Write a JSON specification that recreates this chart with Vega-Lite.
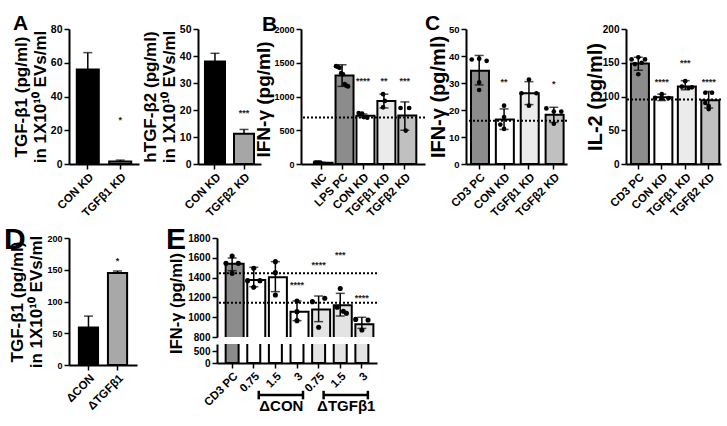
{
"$schema": "https://vega.github.io/schema/vega-lite/v6.json",
"padding": {"left": 4, "top": 13, "right": 0, "bottom": 0},
"config": {
  "view": {"stroke": null},
  "font": "Liberation Sans",
  "numberFormat": "d",
  "axis": {"domainColor": "#000", "domainWidth": 2, "tickColor": "#000", "tickWidth": 1.5, "tickSize": 5, "labelColor": "#000", "labelFont": "Liberation Sans", "labelFontWeight": "bold", "labelFontSize": 10.5, "labelPadding": 2, "labelOverlap": false, "titleColor": "#000", "titleFont": "Liberation Sans", "titleFontWeight": "bold", "grid": false},
  "axisX": {"labelAngle": -45, "labelFontSize": 11.5},
  "title": {"font": "Liberation Sans", "fontWeight": "bold", "color": "#000", "anchor": "start", "frame": "group"},
  "tick": {"thickness": 1.5, "color": "#000"},
  "rule": {"color": "#000"}
},
"datasets": {
  "bars": [
    {"p": "A1", "cat": "CON KD", "m": 56, "lo": 56, "hi": 66},
    {"p": "A1", "cat": "TGFβ1 KD", "m": 1.5, "lo": 1.5, "hi": 2.3},
    {"p": "A2", "cat": "CON KD", "m": 38, "lo": 38, "hi": 41},
    {"p": "A2", "cat": "TGFβ2 KD", "m": 11.2, "lo": 11.2, "hi": 12.8},
    {"p": "B", "cat": "NC", "m": 20, "lo": 15, "hi": 25},
    {"p": "B", "cat": "LPS PC", "m": 1311, "lo": 1150, "hi": 1470},
    {"p": "B", "cat": "CON KD", "m": 715, "lo": 690, "hi": 740},
    {"p": "B", "cat": "TGFβ1 KD", "m": 935, "lo": 830, "hi": 1035},
    {"p": "B", "cat": "TGFβ2 KD", "m": 718, "lo": 500, "hi": 920},
    {"p": "C", "cat": "CD3 PC", "m": 34.5, "lo": 29.3, "hi": 40.2},
    {"p": "C", "cat": "CON KD", "m": 16.5, "lo": 12.8, "hi": 20.4},
    {"p": "C", "cat": "TGFβ1 KD", "m": 26.2, "lo": 22, "hi": 30.5},
    {"p": "C", "cat": "TGFβ2 KD", "m": 18.2, "lo": 15.4, "hi": 21},
    {"p": "IL2", "cat": "CD3 PC", "m": 149, "lo": 139, "hi": 158},
    {"p": "IL2", "cat": "CON KD", "m": 99, "lo": 94, "hi": 103.5},
    {"p": "IL2", "cat": "TGFβ1 KD", "m": 115, "lo": 110, "hi": 123.5},
    {"p": "IL2", "cat": "TGFβ2 KD", "m": 94.5, "lo": 83, "hi": 107.5},
    {"p": "D", "cat": "ΔCON", "m": 59, "lo": 59, "hi": 77},
    {"p": "D", "cat": "ΔTGFβ1", "m": 145, "lo": 145, "hi": 148},
    {"p": "E", "cat": "CD3 PC", "m": 1540, "lo": 1470, "hi": 1598},
    {"p": "E", "cat": "0.75|ΔCON", "m": 1376, "lo": 1308, "hi": 1504},
    {"p": "E", "cat": "1.5|ΔCON", "m": 1403, "lo": 1258, "hi": 1561},
    {"p": "E", "cat": "3|ΔCON", "m": 1056, "lo": 965, "hi": 1164},
    {"p": "E", "cat": "0.75|ΔTGFβ1", "m": 1079, "lo": 955, "hi": 1214},
    {"p": "E", "cat": "1.5|ΔTGFβ1", "m": 1120, "lo": 1012, "hi": 1241},
    {"p": "E", "cat": "3|ΔTGFβ1", "m": 928, "lo": 887, "hi": 999}
  ],
  "pts": [
    {"p": "B", "cat": "NC", "r": 1, "v": 20}, {"p": "B", "cat": "NC", "r": 2, "v": 20}, {"p": "B", "cat": "NC", "r": 3, "v": 20}, {"p": "B", "cat": "NC", "r": 4, "v": 20},
    {"p": "B", "cat": "LPS PC", "r": 1, "v": 1450}, {"p": "B", "cat": "LPS PC", "r": 2, "v": 1440}, {"p": "B", "cat": "LPS PC", "r": 3, "v": 1425}, {"p": "B", "cat": "LPS PC", "r": 4, "v": 1345},
    {"p": "B", "cat": "LPS PC", "r": 5, "v": 1330}, {"p": "B", "cat": "LPS PC", "r": 6, "v": 1185}, {"p": "B", "cat": "LPS PC", "r": 7, "v": 1160}, {"p": "B", "cat": "LPS PC", "r": 8, "v": 1150},
    {"p": "B", "cat": "CON KD", "r": 2, "v": 755}, {"p": "B", "cat": "CON KD", "r": 4, "v": 745}, {"p": "B", "cat": "CON KD", "r": 5, "v": 695}, {"p": "B", "cat": "CON KD", "r": 7, "v": 685},
    {"p": "B", "cat": "TGFβ1 KD", "r": 4, "v": 1035}, {"p": "B", "cat": "TGFβ1 KD", "r": 5, "v": 935}, {"p": "B", "cat": "TGFβ1 KD", "r": 4, "v": 840},
    {"p": "B", "cat": "TGFβ2 KD", "r": 2, "v": 830}, {"p": "B", "cat": "TGFβ2 KD", "r": 7, "v": 830}, {"p": "B", "cat": "TGFβ2 KD", "r": 5, "v": 495},
    {"p": "C", "cat": "CD3 PC", "r": 1, "v": 38.7}, {"p": "C", "cat": "CD3 PC", "r": 3, "v": 39.0}, {"p": "C", "cat": "CD3 PC", "r": 5, "v": 38.2}, {"p": "C", "cat": "CD3 PC", "r": 3, "v": 30.2}, {"p": "C", "cat": "CD3 PC", "r": 3, "v": 27.4},
    {"p": "C", "cat": "CON KD", "r": 3, "v": 21.6}, {"p": "C", "cat": "CON KD", "r": 3, "v": 17.4}, {"p": "C", "cat": "CON KD", "r": 2, "v": 14.6}, {"p": "C", "cat": "CON KD", "r": 3, "v": 13.0},
    {"p": "C", "cat": "TGFβ1 KD", "r": 3, "v": 31.3}, {"p": "C", "cat": "TGFβ1 KD", "r": 1, "v": 26.2}, {"p": "C", "cat": "TGFβ1 KD", "r": 5, "v": 26.2}, {"p": "C", "cat": "TGFβ1 KD", "r": 3, "v": 21.6},
    {"p": "C", "cat": "TGFβ2 KD", "r": 1, "v": 20.6}, {"p": "C", "cat": "TGFβ2 KD", "r": 3, "v": 19.4}, {"p": "C", "cat": "TGFβ2 KD", "r": 5, "v": 19.4}, {"p": "C", "cat": "TGFβ2 KD", "r": 3, "v": 14.9},
    {"p": "IL2", "cat": "CD3 PC", "r": 3, "v": 158}, {"p": "IL2", "cat": "CD3 PC", "r": 1, "v": 155}, {"p": "IL2", "cat": "CD3 PC", "r": 5, "v": 155}, {"p": "IL2", "cat": "CD3 PC", "r": 4, "v": 150}, {"p": "IL2", "cat": "CD3 PC", "r": 2, "v": 148}, {"p": "IL2", "cat": "CD3 PC", "r": 3, "v": 133},
    {"p": "IL2", "cat": "CON KD", "r": 3, "v": 103.5}, {"p": "IL2", "cat": "CON KD", "r": 1, "v": 98}, {"p": "IL2", "cat": "CON KD", "r": 3, "v": 98}, {"p": "IL2", "cat": "CON KD", "r": 5, "v": 97.5},
    {"p": "IL2", "cat": "TGFβ1 KD", "r": 3, "v": 122.7}, {"p": "IL2", "cat": "TGFβ1 KD", "r": 2, "v": 114.6}, {"p": "IL2", "cat": "TGFβ1 KD", "r": 4, "v": 112.6}, {"p": "IL2", "cat": "TGFβ1 KD", "r": 5, "v": 113.6},
    {"p": "IL2", "cat": "TGFβ2 KD", "r": 2, "v": 105.6}, {"p": "IL2", "cat": "TGFβ2 KD", "r": 4, "v": 105.6}, {"p": "IL2", "cat": "TGFβ2 KD", "r": 2, "v": 90.4}, {"p": "IL2", "cat": "TGFβ2 KD", "r": 3, "v": 85.9}, {"p": "IL2", "cat": "TGFβ2 KD", "r": 3, "v": 81.3},
    {"p": "E", "cat": "CD3 PC", "r": 3, "v": 1618}, {"p": "E", "cat": "CD3 PC", "r": 1, "v": 1544}, {"p": "E", "cat": "CD3 PC", "r": 5, "v": 1544}, {"p": "E", "cat": "CD3 PC", "r": 3, "v": 1443},
    {"p": "E", "cat": "0.75|ΔCON", "r": 3, "v": 1494}, {"p": "E", "cat": "0.75|ΔCON", "r": 1, "v": 1369}, {"p": "E", "cat": "0.75|ΔCON", "r": 5, "v": 1369}, {"p": "E", "cat": "0.75|ΔCON", "r": 3, "v": 1302},
    {"p": "E", "cat": "1.5|ΔCON", "r": 3, "v": 1561}, {"p": "E", "cat": "1.5|ΔCON", "r": 3, "v": 1450}, {"p": "E", "cat": "1.5|ΔCON", "r": 3, "v": 1224},
    {"p": "E", "cat": "3|ΔCON", "r": 3, "v": 1164}, {"p": "E", "cat": "3|ΔCON", "r": 3, "v": 1056}, {"p": "E", "cat": "3|ΔCON", "r": 3, "v": 965},
    {"p": "E", "cat": "0.75|ΔTGFβ1", "r": 1, "v": 1157}, {"p": "E", "cat": "0.75|ΔTGFβ1", "r": 5, "v": 1191}, {"p": "E", "cat": "0.75|ΔTGFβ1", "r": 3, "v": 898},
    {"p": "E", "cat": "1.5|ΔTGFβ1", "r": 3, "v": 1290}, {"p": "E", "cat": "1.5|ΔTGFβ1", "r": 2, "v": 1100}, {"p": "E", "cat": "1.5|ΔTGFβ1", "r": 4, "v": 1060}, {"p": "E", "cat": "1.5|ΔTGFβ1", "r": 5, "v": 1040},
    {"p": "E", "cat": "3|ΔTGFβ1", "r": 1, "v": 978}, {"p": "E", "cat": "3|ΔTGFβ1", "r": 5, "v": 972}, {"p": "E", "cat": "3|ΔTGFβ1", "r": 3, "v": 871}
  ],
  "stars": [
    {"p": "A1", "cat": "TGFβ1 KD", "s": "*", "v": 26},
    {"p": "A2", "cat": "TGFβ2 KD", "s": "***", "v": 19},
    {"p": "B", "cat": "CON KD", "s": "****", "v": 1230},
    {"p": "B", "cat": "TGFβ1 KD", "s": "**", "v": 1230},
    {"p": "B", "cat": "TGFβ2 KD", "s": "***", "v": 1230},
    {"p": "C", "cat": "CON KD", "s": "**", "v": 30.5},
    {"p": "C", "cat": "TGFβ2 KD", "s": "*", "v": 29.5},
    {"p": "IL2", "cat": "CON KD", "s": "****", "v": 122},
    {"p": "IL2", "cat": "TGFβ1 KD", "s": "***", "v": 150},
    {"p": "IL2", "cat": "TGFβ2 KD", "s": "****", "v": 122},
    {"p": "D", "cat": "ΔTGFβ1", "s": "*", "v": 164},
    {"p": "E", "cat": "3|ΔCON", "s": "****", "v": 1330},
    {"p": "E", "cat": "0.75|ΔTGFβ1", "s": "****", "v": 1525},
    {"p": "E", "cat": "1.5|ΔTGFβ1", "s": "***", "v": 1625},
    {"p": "E", "cat": "3|ΔTGFβ1", "s": "****", "v": 1190}
  ],
  "refs": [
    {"p": "B", "v": 690},
    {"p": "C", "v": 16},
    {"p": "IL2", "v": 95.5},
    {"p": "E", "v": 1443},
    {"p": "E", "v": 1147}
  ],
  "grp": [
    {"g": "ΔCON", "a": "0.75|ΔCON", "b": "3|ΔCON", "c": "1.5|ΔCON"},
    {"g": "ΔTGFβ1", "a": "0.75|ΔTGFβ1", "b": "3|ΔTGFβ1", "c": "1.5|ΔTGFβ1"}
  ]
},
"resolve": {"scale": {"fill": "independent", "xOffset": "independent"}},
"spacing": 6,
"vconcat": [
{
  "hconcat": [
    {
      "width": 70, "height": 135,
      "title": {"text": "A", "fontSize": 21, "dx": -56, "offset": -10},
      "layer": [
        {"data": {"name": "bars"}, "transform": [{"filter": "datum.p==='A1'"}], "mark": {"type": "bar", "stroke": "#000", "strokeWidth": 2},
         "encoding": {
           "x": {"field": "cat", "type": "nominal", "scale": {"domain": ["CON KD", "TGFβ1 KD"], "paddingInner": 0.32, "paddingOuter": 0.24}, "axis": {"title": null}},
           "y": {"field": "m", "type": "quantitative", "scale": {"domain": [0, 80]}, "axis": {"title": ["TGF-β1 (pg/ml)", "in 1X10¹⁰ EVs/ml"], "titleFontSize": 17, "titleLineHeight": 19, "titlePadding": 1, "values": [0, 20, 40, 60, 80], "tickCount": 20, "labelOverlap": false}},
           "fill": {"field": "cat", "type": "nominal", "scale": {"domain": ["CON KD", "TGFβ1 KD"], "range": ["#000000", "#9a9a9a"]}, "legend": null}}},
        {"data": {"name": "bars"}, "transform": [{"filter": "datum.p==='A1'"}], "mark": {"type": "rule", "strokeWidth": 1.5},
         "encoding": {"x": {"field": "cat", "type": "nominal"}, "y": {"field": "lo", "type": "quantitative"}, "y2": {"field": "hi"}}},
        {"data": {"name": "bars"}, "transform": [{"filter": "datum.p==='A1'"}], "mark": {"type": "tick", "size": 9},
         "encoding": {"x": {"field": "cat", "type": "nominal"}, "y": {"field": "hi", "type": "quantitative"}}},
        {"data": {"name": "stars"}, "transform": [{"filter": "datum.p==='A1'"}], "mark": {"type": "text", "fontSize": 9, "fontWeight": "bold", "baseline": "middle", "color": "#222"},
         "encoding": {"x": {"field": "cat", "type": "nominal"}, "y": {"field": "v", "type": "quantitative"}, "text": {"field": "s"}}}
      ]
    },
    {"width": 59, "height": 10, "data": {"values": []}, "mark": "point"},
    {
      "width": 63, "height": 135,
      "layer": [
        {"data": {"name": "bars"}, "transform": [{"filter": "datum.p==='A2'"}], "mark": {"type": "bar", "stroke": "#000", "strokeWidth": 2},
         "encoding": {
           "x": {"field": "cat", "type": "nominal", "scale": {"domain": ["CON KD", "TGFβ2 KD"], "paddingInner": 0.31, "paddingOuter": 0.24}, "axis": {"title": null}},
           "y": {"field": "m", "type": "quantitative", "scale": {"domain": [0, 50]}, "axis": {"title": ["hTGF-β2 (pg/ml)", "in 1X10¹⁰ EVs/ml"], "titleFontSize": 17, "titleLineHeight": 19, "titlePadding": 1, "values": [0, 10, 20, 30, 40, 50], "tickCount": 20, "labelOverlap": false}},
           "fill": {"field": "cat", "type": "nominal", "scale": {"domain": ["CON KD", "TGFβ2 KD"], "range": ["#000000", "#a6a6a6"]}, "legend": null}}},
        {"data": {"name": "bars"}, "transform": [{"filter": "datum.p==='A2'"}], "mark": {"type": "rule", "strokeWidth": 1.5},
         "encoding": {"x": {"field": "cat", "type": "nominal"}, "y": {"field": "lo", "type": "quantitative"}, "y2": {"field": "hi"}}},
        {"data": {"name": "bars"}, "transform": [{"filter": "datum.p==='A2'"}], "mark": {"type": "tick", "size": 9},
         "encoding": {"x": {"field": "cat", "type": "nominal"}, "y": {"field": "hi", "type": "quantitative"}}},
        {"data": {"name": "stars"}, "transform": [{"filter": "datum.p==='A2'"}], "mark": {"type": "text", "fontSize": 9, "fontWeight": "bold", "baseline": "middle", "color": "#222"},
         "encoding": {"x": {"field": "cat", "type": "nominal"}, "y": {"field": "v", "type": "quantitative"}, "text": {"field": "s"}}}
      ]
    },
    {"width": 40, "height": 10, "data": {"values": []}, "mark": "point"},
    {
      "width": 124, "height": 135,
      "title": {"text": "B", "fontSize": 21, "dx": -39, "offset": -10},
      "layer": [
        {"data": {"name": "bars"}, "transform": [{"filter": "datum.p==='B'"}], "mark": {"type": "bar", "stroke": "#000", "strokeWidth": 2},
         "encoding": {
           "x": {"field": "cat", "type": "nominal", "scale": {"domain": ["NC", "LPS PC", "CON KD", "TGFβ1 KD", "TGFβ2 KD"], "paddingInner": 0.375, "paddingOuter": 0.65}, "axis": {"title": null}},
           "y": {"field": "m", "type": "quantitative", "scale": {"domain": [0, 2000]}, "axis": {"title": "IFN-γ (pg/ml)", "titleFontSize": 19, "titlePadding": 0, "titleY": 70, "labelFontSize": 9, "values": [0, 500, 1000, 1500, 2000], "tickCount": 20, "labelOverlap": false}},
           "fill": {"field": "cat", "type": "nominal", "scale": {"domain": ["NC", "LPS PC", "CON KD", "TGFβ1 KD", "TGFβ2 KD"], "range": ["#ffffff", "#8c8c8c", "#ffffff", "#ebebeb", "#c0c0c0"]}, "legend": null}}},
        {"data": {"name": "bars"}, "transform": [{"filter": "datum.p==='B'"}], "mark": {"type": "rule", "strokeWidth": 1.5},
         "encoding": {"x": {"field": "cat", "type": "nominal"}, "y": {"field": "lo", "type": "quantitative"}, "y2": {"field": "hi"}}},
        {"data": {"name": "bars"}, "transform": [{"filter": "datum.p==='B'"}], "mark": {"type": "tick", "size": 9},
         "encoding": {"x": {"field": "cat", "type": "nominal"}, "y": {"field": "hi", "type": "quantitative"}}},
        {"data": {"name": "bars"}, "transform": [{"filter": "datum.p==='B'"}], "mark": {"type": "tick", "size": 9},
         "encoding": {"x": {"field": "cat", "type": "nominal"}, "y": {"field": "lo", "type": "quantitative"}}},
        {"data": {"name": "refs"}, "transform": [{"filter": "datum.p==='B'"}], "mark": {"type": "rule", "strokeDash": [2, 2], "strokeWidth": 2},
         "encoding": {"y": {"field": "v", "type": "quantitative"}}},
        {"data": {"name": "pts"}, "transform": [{"filter": "datum.p==='B'"}], "mark": {"type": "circle", "size": 22, "color": "#000", "opacity": 1},
         "encoding": {"x": {"field": "cat", "type": "nominal"}, "xOffset": {"field": "r", "type": "ordinal", "scale": {"domain": [1, 2, 3, 4, 5, 6, 7, 8], "paddingOuter": 0.3}}, "y": {"field": "v", "type": "quantitative"}}},
        {"data": {"name": "stars"}, "transform": [{"filter": "datum.p==='B'"}], "mark": {"type": "text", "fontSize": 9, "fontWeight": "bold", "baseline": "middle", "color": "#222"},
         "encoding": {"x": {"field": "cat", "type": "nominal"}, "y": {"field": "v", "type": "quantitative"}, "text": {"field": "s"}}}
      ]
    },
    {"width": 41, "height": 10, "data": {"values": []}, "mark": "point"},
    {
      "width": 101, "height": 135,
      "title": {"text": "C", "fontSize": 21, "dx": -41, "offset": -10},
      "layer": [
        {"data": {"name": "bars"}, "transform": [{"filter": "datum.p==='C'"}], "mark": {"type": "bar", "stroke": "#000", "strokeWidth": 2},
         "encoding": {
           "x": {"field": "cat", "type": "nominal", "scale": {"domain": ["CD3 PC", "CON KD", "TGFβ1 KD", "TGFβ2 KD"], "paddingInner": 0.34, "paddingOuter": 0.2}, "axis": {"title": null}},
           "y": {"field": "m", "type": "quantitative", "scale": {"domain": [0, 50]}, "axis": {"title": "IFN-γ (pg/ml)", "titleFontSize": 20, "titlePadding": 0, "labelFontSize": 9.5, "values": [0, 10, 20, 30, 40, 50], "tickCount": 20, "labelOverlap": false}},
           "fill": {"field": "cat", "type": "nominal", "scale": {"domain": ["CD3 PC", "CON KD", "TGFβ1 KD", "TGFβ2 KD"], "range": ["#8c8c8c", "#ffffff", "#ebebeb", "#c0c0c0"]}, "legend": null}}},
        {"data": {"name": "bars"}, "transform": [{"filter": "datum.p==='C'"}], "mark": {"type": "rule", "strokeWidth": 1.5},
         "encoding": {"x": {"field": "cat", "type": "nominal"}, "y": {"field": "lo", "type": "quantitative"}, "y2": {"field": "hi"}}},
        {"data": {"name": "bars"}, "transform": [{"filter": "datum.p==='C'"}], "mark": {"type": "tick", "size": 9},
         "encoding": {"x": {"field": "cat", "type": "nominal"}, "y": {"field": "hi", "type": "quantitative"}}},
        {"data": {"name": "bars"}, "transform": [{"filter": "datum.p==='C'"}], "mark": {"type": "tick", "size": 9},
         "encoding": {"x": {"field": "cat", "type": "nominal"}, "y": {"field": "lo", "type": "quantitative"}}},
        {"data": {"name": "refs"}, "transform": [{"filter": "datum.p==='C'"}], "mark": {"type": "rule", "strokeDash": [2, 2], "strokeWidth": 2},
         "encoding": {"y": {"field": "v", "type": "quantitative"}}},
        {"data": {"name": "pts"}, "transform": [{"filter": "datum.p==='C'"}], "mark": {"type": "circle", "size": 22, "color": "#000", "opacity": 1},
         "encoding": {"x": {"field": "cat", "type": "nominal"}, "xOffset": {"field": "r", "type": "ordinal", "scale": {"domain": [1, 2, 3, 4, 5], "paddingOuter": 0.2}}, "y": {"field": "v", "type": "quantitative"}}},
        {"data": {"name": "stars"}, "transform": [{"filter": "datum.p==='C'"}], "mark": {"type": "text", "fontSize": 9, "fontWeight": "bold", "baseline": "middle", "color": "#222"},
         "encoding": {"x": {"field": "cat", "type": "nominal"}, "y": {"field": "v", "type": "quantitative"}, "text": {"field": "s"}}}
      ]
    },
    {"width": 59, "height": 10, "data": {"values": []}, "mark": "point"},
    {
      "width": 95, "height": 135,
      "layer": [
        {"data": {"name": "bars"}, "transform": [{"filter": "datum.p==='IL2'"}], "mark": {"type": "bar", "stroke": "#000", "strokeWidth": 2},
         "encoding": {
           "x": {"field": "cat", "type": "nominal", "scale": {"domain": ["CD3 PC", "CON KD", "TGFβ1 KD", "TGFβ2 KD"], "paddingInner": 0.37, "paddingOuter": 0.21}, "axis": {"title": null}},
           "y": {"field": "m", "type": "quantitative", "scale": {"domain": [0, 200]}, "axis": {"title": "IL-2 (pg/ml)", "titleFontSize": 20, "titlePadding": -3, "labelFontSize": 10, "values": [0, 50, 100, 150, 200], "tickCount": 20, "labelOverlap": false}},
           "fill": {"field": "cat", "type": "nominal", "scale": {"domain": ["CD3 PC", "CON KD", "TGFβ1 KD", "TGFβ2 KD"], "range": ["#8c8c8c", "#ffffff", "#ebebeb", "#c0c0c0"]}, "legend": null}}},
        {"data": {"name": "bars"}, "transform": [{"filter": "datum.p==='IL2'"}], "mark": {"type": "rule", "strokeWidth": 1.5},
         "encoding": {"x": {"field": "cat", "type": "nominal"}, "y": {"field": "lo", "type": "quantitative"}, "y2": {"field": "hi"}}},
        {"data": {"name": "bars"}, "transform": [{"filter": "datum.p==='IL2'"}], "mark": {"type": "tick", "size": 9},
         "encoding": {"x": {"field": "cat", "type": "nominal"}, "y": {"field": "hi", "type": "quantitative"}}},
        {"data": {"name": "bars"}, "transform": [{"filter": "datum.p==='IL2'"}], "mark": {"type": "tick", "size": 9},
         "encoding": {"x": {"field": "cat", "type": "nominal"}, "y": {"field": "lo", "type": "quantitative"}}},
        {"data": {"name": "refs"}, "transform": [{"filter": "datum.p==='IL2'"}], "mark": {"type": "rule", "strokeDash": [2, 2], "strokeWidth": 2},
         "encoding": {"y": {"field": "v", "type": "quantitative"}}},
        {"data": {"name": "pts"}, "transform": [{"filter": "datum.p==='IL2'"}], "mark": {"type": "circle", "size": 22, "color": "#000", "opacity": 1},
         "encoding": {"x": {"field": "cat", "type": "nominal"}, "xOffset": {"field": "r", "type": "ordinal", "scale": {"domain": [1, 2, 3, 4, 5], "paddingOuter": 0.2}}, "y": {"field": "v", "type": "quantitative"}}},
        {"data": {"name": "stars"}, "transform": [{"filter": "datum.p==='IL2'"}], "mark": {"type": "text", "fontSize": 9, "fontWeight": "bold", "baseline": "middle", "color": "#222"},
         "encoding": {"x": {"field": "cat", "type": "nominal"}, "y": {"field": "v", "type": "quantitative"}, "text": {"field": "s"}}}
      ]
    }
  ],
  "spacing": 0,
  "bounds": "flush",
  "resolve": {"scale": {"fill": "independent", "xOffset": "independent"}}
},
{
  "hconcat": [
    {
      "width": 68, "height": 127,
      "title": {"text": "D", "fontSize": 30, "dx": -65, "offset": -21},
      "layer": [
        {"data": {"name": "bars"}, "transform": [{"filter": "datum.p==='D'"}], "mark": {"type": "bar", "stroke": "#000", "strokeWidth": 2},
         "encoding": {
           "x": {"field": "cat", "type": "nominal", "scale": {"domain": ["ΔCON", "ΔTGFβ1"], "paddingInner": 0.34, "paddingOuter": 0.34}, "axis": {"title": null}},
           "y": {"field": "m", "type": "quantitative", "scale": {"domain": [0, 200]}, "axis": {"title": ["TGF-β1 (pg/ml)", "in 1X10¹⁰ EVs/ml"], "titleFontSize": 17, "titleLineHeight": 19, "titlePadding": 1, "labelFontSize": 9, "values": [0, 50, 100, 150, 200], "tickCount": 20, "labelOverlap": false}},
           "fill": {"field": "cat", "type": "nominal", "scale": {"domain": ["ΔCON", "ΔTGFβ1"], "range": ["#000000", "#a8a8a8"]}, "legend": null}}},
        {"data": {"name": "bars"}, "transform": [{"filter": "datum.p==='D'"}], "mark": {"type": "rule", "strokeWidth": 1.5},
         "encoding": {"x": {"field": "cat", "type": "nominal"}, "y": {"field": "lo", "type": "quantitative"}, "y2": {"field": "hi"}}},
        {"data": {"name": "bars"}, "transform": [{"filter": "datum.p==='D'"}], "mark": {"type": "tick", "size": 9},
         "encoding": {"x": {"field": "cat", "type": "nominal"}, "y": {"field": "hi", "type": "quantitative"}}},
        {"data": {"name": "stars"}, "transform": [{"filter": "datum.p==='D'"}], "mark": {"type": "text", "fontSize": 9, "fontWeight": "bold", "baseline": "middle", "color": "#222"},
         "encoding": {"x": {"field": "cat", "type": "nominal"}, "y": {"field": "v", "type": "quantitative"}, "text": {"field": "s"}}}
      ]
    },
    {"width": 80, "height": 10, "data": {"values": []}, "mark": "point"},
    {
      "vconcat": [
        {
          "width": 160, "height": 99,
          "title": {"text": "E", "fontSize": 30, "dx": -51, "offset": -22},
          "layer": [
            {"data": {"name": "bars"}, "transform": [{"filter": "datum.p==='E'"}], "mark": {"type": "bar", "stroke": "#000", "strokeWidth": 2, "clip": true},
             "encoding": {
               "x": {"field": "cat", "type": "nominal", "scale": {"domain": ["CD3 PC", "0.75|ΔCON", "1.5|ΔCON", "3|ΔCON", "0.75|ΔTGFβ1", "1.5|ΔTGFβ1", "3|ΔTGFβ1"], "paddingInner": 0.4, "paddingOuter": 0.4}, "axis": null},
               "y": {"field": "m", "type": "quantitative", "scale": {"domain": [800, 1800]}, "axis": {"title": "IFN-γ (pg/ml)", "titleFontSize": 16.5, "titlePadding": 3, "titleY": 65, "labelFontSize": 10, "values": [800, 1000, 1200, 1400, 1600, 1800], "tickCount": 20, "labelOverlap": false}},
               "fill": {"field": "cat", "type": "nominal", "scale": {"domain": ["CD3 PC", "0.75|ΔCON", "1.5|ΔCON", "3|ΔCON", "0.75|ΔTGFβ1", "1.5|ΔTGFβ1", "3|ΔTGFβ1"], "range": ["#8c8c8c", "#ffffff", "#ffffff", "#ffffff", "#e3e3e3", "#e3e3e3", "#e3e3e3"]}, "legend": null}}},
            {"data": {"name": "bars"}, "transform": [{"filter": "datum.p==='E'"}], "mark": {"type": "rule", "strokeWidth": 1.5},
             "encoding": {"x": {"field": "cat", "type": "nominal", "axis": null}, "y": {"field": "lo", "type": "quantitative"}, "y2": {"field": "hi"}}},
            {"data": {"name": "bars"}, "transform": [{"filter": "datum.p==='E'"}], "mark": {"type": "tick", "size": 9},
             "encoding": {"x": {"field": "cat", "type": "nominal", "axis": null}, "y": {"field": "hi", "type": "quantitative"}}},
            {"data": {"name": "bars"}, "transform": [{"filter": "datum.p==='E'"}], "mark": {"type": "tick", "size": 9},
             "encoding": {"x": {"field": "cat", "type": "nominal", "axis": null}, "y": {"field": "lo", "type": "quantitative"}}},
            {"data": {"name": "refs"}, "transform": [{"filter": "datum.p==='E'"}], "mark": {"type": "rule", "strokeDash": [2, 2], "strokeWidth": 2},
             "encoding": {"y": {"field": "v", "type": "quantitative"}}},
            {"data": {"name": "pts"}, "transform": [{"filter": "datum.p==='E'"}], "mark": {"type": "circle", "size": 26, "color": "#000", "opacity": 1},
             "encoding": {"x": {"field": "cat", "type": "nominal", "axis": null}, "xOffset": {"field": "r", "type": "ordinal", "scale": {"domain": [1, 2, 3, 4, 5], "paddingOuter": 0.1}}, "y": {"field": "v", "type": "quantitative"}}},
            {"data": {"name": "stars"}, "transform": [{"filter": "datum.p==='E'"}], "mark": {"type": "text", "fontSize": 9, "fontWeight": "bold", "baseline": "middle", "color": "#222"},
             "encoding": {"x": {"field": "cat", "type": "nominal", "axis": null}, "y": {"field": "v", "type": "quantitative"}, "text": {"field": "s"}}}
          ]
        },
        {
          "width": 160, "height": 19,
          "layer": [
            {"data": {"name": "bars"}, "transform": [{"filter": "datum.p==='E'"}], "mark": {"type": "bar", "stroke": "#000", "strokeWidth": 2, "clip": true},
             "encoding": {
               "x": {"field": "cat", "type": "nominal", "scale": {"domain": ["CD3 PC", "0.75|ΔCON", "1.5|ΔCON", "3|ΔCON", "0.75|ΔTGFβ1", "1.5|ΔTGFβ1", "3|ΔTGFβ1"], "paddingInner": 0.4, "paddingOuter": 0.4}, "axis": {"title": null, "labelExpr": "split(datum.label, '|')[0]"}},
               "y": {"field": "m", "type": "quantitative", "scale": {"domain": [0, 800]}, "axis": {"title": null, "labelFontSize": 10, "values": [0, 500], "tickCount": 20, "labelOverlap": false}},
               "fill": {"field": "cat", "type": "nominal", "scale": {"domain": ["CD3 PC", "0.75|ΔCON", "1.5|ΔCON", "3|ΔCON", "0.75|ΔTGFβ1", "1.5|ΔTGFβ1", "3|ΔTGFβ1"], "range": ["#8c8c8c", "#ffffff", "#ffffff", "#ffffff", "#e3e3e3", "#e3e3e3", "#e3e3e3"]}, "legend": null}}},
            {"data": {"name": "grp"}, "mark": {"type": "rule", "strokeWidth": 2.5, "xOffset": 5, "x2Offset": 6},
             "encoding": {"x": {"field": "a", "type": "nominal"}, "x2": {"field": "b"}, "y": {"datum": -1350, "type": "quantitative"}}},
            {"data": {"name": "grp"}, "mark": {"type": "rule", "strokeWidth": 2.5, "xOffset": 5},
             "encoding": {"x": {"field": "a", "type": "nominal"}, "y": {"datum": -1170, "type": "quantitative"}, "y2": {"datum": -1530}}},
            {"data": {"name": "grp"}, "mark": {"type": "rule", "strokeWidth": 2.5, "xOffset": 6},
             "encoding": {"x": {"field": "b", "type": "nominal"}, "y": {"datum": -1170, "type": "quantitative"}, "y2": {"datum": -1530}}},
            {"data": {"name": "grp"}, "mark": {"type": "text", "fontSize": 15, "fontWeight": "bold", "baseline": "middle", "color": "#000", "xOffset": 6},
             "encoding": {"x": {"field": "c", "type": "nominal"}, "y": {"datum": -1830, "type": "quantitative"}, "text": {"field": "g"}}}
          ]
        }
      ],
      "spacing": 7,
      "bounds": "flush",
      "resolve": {"scale": {"fill": "independent", "xOffset": "independent"}}
    }
  ],
  "spacing": 0,
  "bounds": "flush",
  "resolve": {"scale": {"fill": "independent", "xOffset": "independent"}}
}
]
}
